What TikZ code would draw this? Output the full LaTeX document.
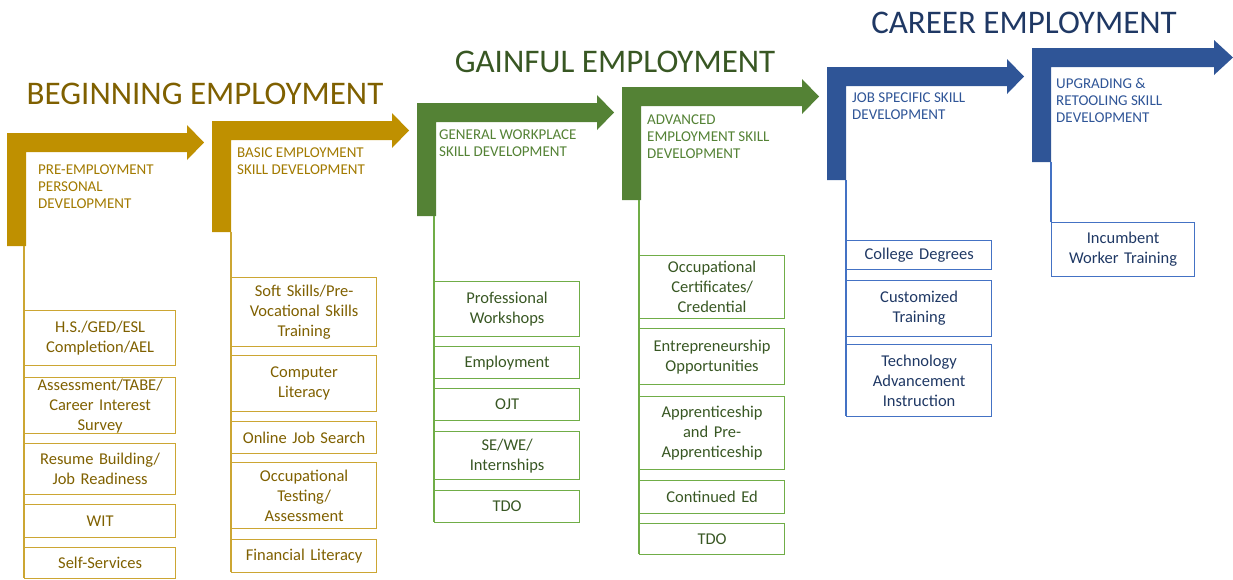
\documentclass[tikz,border=0pt]{standalone}
\usepackage{fontspec}
\setmainfont{Carlito}
\usepackage{tikz}

\definecolor{goldbar}{HTML}{BF9000}
\definecolor{goldrim}{HTML}{CCA633}
\definecolor{goldtext}{HTML}{7F6000}
\definecolor{goldhead}{HTML}{A27A00}
\definecolor{greenbar}{HTML}{548235}
\definecolor{greenrim}{HTML}{70AD47}
\definecolor{greentext}{HTML}{385723}
\definecolor{bluebar}{HTML}{2F5597}
\definecolor{bluerim}{HTML}{4472C4}
\definecolor{bluetext}{HTML}{1F3864}

\begin{document}
\begin{tikzpicture}[
    x=1pt, y=-1pt,
    title/.style={inner sep=0pt, font=\fontsize{33}{36}\selectfont},
    stagehead/.style={anchor=north west, inner sep=0pt, align=left, font=\fontsize{15}{16.8}\selectfont},
    itembox/.style={draw, rectangle, line width=1.2pt, anchor=north west, inner xsep=3pt, inner ysep=0pt,
                    text width=139pt, align=center, font=\fontsize{16.5}{20}\selectfont},
    goldbox/.style={itembox, draw=goldrim, text=goldtext},
    greenbox/.style={itembox, draw=greenrim, text=greentext},
    bluebox/.style={itembox, draw=bluerim, text=bluetext},
    rule/.style={line width=1.2pt}
]
\useasboundingbox (0,0) rectangle (1233,579);

% --- Titles ---
\node[title, text=goldtext] (begin) at (205,93.5) {BEGINNING EMPLOYMENT};
\node[title, text=greentext] (gainful) at (615,62) {GAINFUL EMPLOYMENT};
\node[title, text=bluetext] (career) at (1024,23) {CAREER EMPLOYMENT};

% --- Feet of the bent arrows ---
\coordinate (foot1) at (24,246);
\coordinate (foot2) at (231,232);
\coordinate (foot3) at (434,216);
\coordinate (foot4) at (639,200);
\coordinate (foot5) at (846,180);
\coordinate (foot6) at (1051,162);

% --- Beginning employment ---
\fill[goldbar] (7,133) -- ++(180,0) -- ++(0,-8) -- ++(17,17.5) -- ++(-17,17.5) -- ++(0,-8) -- ++(-161,0) -- ++(0,94) -- ++(-19,0) -- cycle;
\fill[goldbar] (212,121) -- ++(180,0) -- ++(0,-8) -- ++(17,17.5) -- ++(-17,17.5) -- ++(0,-8) -- ++(-161,0) -- ++(0,92) -- ++(-19,0) -- cycle;
\node[stagehead, text=goldhead] (pre) at (38,165) {PRE-EMPLOYMENT\\PERSONAL\\DEVELOPMENT};
\node[stagehead, text=goldhead] (basic) at (237,148) {BASIC EMPLOYMENT\\SKILL DEVELOPMENT};

\draw[rule, goldrim] (foot1) -- (24,578);
\node[goldbox, text width=145pt, minimum height=55pt] (hsged) at (24,310) {H.S./GED/ESL\\Completion/AEL};
\node[goldbox, text width=145pt, minimum height=56pt] (tabe) at (24,377) {Assessment/TABE/\\Career Interest\\Survey};
\node[goldbox, text width=145pt, minimum height=51pt] (resume) at (24,443) {Resume Building/\\Job Readiness};
\node[goldbox, text width=145pt, minimum height=33pt] (wit) at (24,504) {WIT};
\node[goldbox, text width=145pt, minimum height=31pt] (selfserv) at (24,547) {Self-Services};

\draw[rule, goldrim] (foot2) -- (231,572);
\node[goldbox, minimum height=69pt] (soft) at (231,277) {Soft Skills/Pre-\\Vocational Skills\\Training};
\node[goldbox, minimum height=56pt] (computer) at (231,355) {Computer\\Literacy};
\node[goldbox, minimum height=32pt] (online) at (231,421) {Online Job Search};
\node[goldbox, minimum height=66pt] (testing) at (231,462) {Occupational\\Testing/\\Assessment};
\node[goldbox, minimum height=33pt] (finance) at (231,539) {Financial Literacy};

% --- Gainful employment ---
\fill[greenbar] (417,103) -- ++(180,0) -- ++(0,-8) -- ++(17,17.5) -- ++(-17,17.5) -- ++(0,-8) -- ++(-161,0) -- ++(0,94) -- ++(-19,0) -- cycle;
\fill[greenbar] (622,87) -- ++(180,0) -- ++(0,-8) -- ++(17,17.5) -- ++(-17,17.5) -- ++(0,-8) -- ++(-161,0) -- ++(0,94) -- ++(-19,0) -- cycle;
\node[stagehead, text=greenbar] (general) at (439,130) {GENERAL WORKPLACE\\SKILL DEVELOPMENT};
\node[stagehead, text=greenbar] (advanced) at (647,115) {ADVANCED\\EMPLOYMENT SKILL\\DEVELOPMENT};

\draw[rule, greenrim] (foot3) -- (434,522);
\node[greenbox, minimum height=55pt] (workshops) at (434,281) {Professional\\Workshops};
\node[greenbox, minimum height=32pt] (employ) at (434,346) {Employment};
\node[greenbox, minimum height=32pt] (ojt) at (434,388) {OJT};
\node[greenbox, minimum height=48pt] (sewe) at (434,431) {SE/WE/\\Internships};
\node[greenbox, minimum height=32pt] (tdoA) at (434,490) {TDO};

\draw[rule, greenrim] (foot4) -- (639,554);
\node[greenbox, minimum height=63pt] (certs) at (639,255) {Occupational\\Certificates/\\Credential};
\node[greenbox, minimum height=56pt] (entre) at (639,328) {Entrepreneurship\\Opportunities};
\node[greenbox, minimum height=73pt] (appren) at (639,396) {Apprenticeship\\and Pre-\\Apprenticeship};
\node[greenbox, minimum height=33pt] (contin) at (639,480) {Continued Ed};
\node[greenbox, minimum height=31pt] (tdoB) at (639,523) {TDO};

% --- Career employment ---
\fill[bluebar] (827,67) -- ++(180,0) -- ++(0,-8) -- ++(17,17.5) -- ++(-17,17.5) -- ++(0,-8) -- ++(-161,0) -- ++(0,94) -- ++(-19,0) -- cycle;
\fill[bluebar] (1032,48) -- ++(182,0) -- ++(0,-8) -- ++(19,17.5) -- ++(-19,17.5) -- ++(0,-8) -- ++(-163,0) -- ++(0,95) -- ++(-19,0) -- cycle;
\node[stagehead, text=bluebar] (jobspec) at (852,93) {JOB SPECIFIC SKILL\\DEVELOPMENT};
\node[stagehead, text=bluebar] (upgrade) at (1056,78) {UPGRADING \&\\RETOOLING SKILL\\DEVELOPMENT};

\draw[rule, bluerim] (foot5) -- (846,416);
\node[bluebox, minimum height=29pt] (college) at (846,240) {College Degrees};
\node[bluebox, minimum height=56pt] (custom) at (846,280) {Customized\\Training};
\node[bluebox, minimum height=72pt] (techadv) at (846,344) {Technology\\Advancement\\Instruction};

\draw[rule, bluerim] (foot6) -- (1051,222);
\node[bluebox, text width=137pt, minimum height=54pt] (incumb) at (1051,222) {Incumbent\\Worker Training};

\end{tikzpicture}
\end{document}
